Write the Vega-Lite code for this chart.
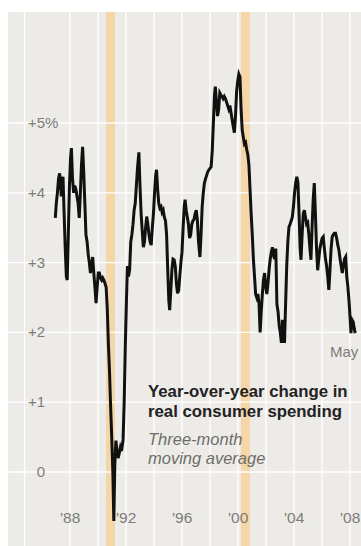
{
  "$schema": "https://vega.github.io/schema/vega-lite/v6.json",
  "width": 353,
  "height": 534,
  "autosize": {"type": "none"},
  "padding": {"left": 8, "top": 12, "right": 0, "bottom": 0},
  "background": "#ffffff",
  "config": {"view": {"fill": "#edebe7", "stroke": null}},
  "datasets": {
    "recessions": [
      {"start": 1990.57, "end": 1991.21},
      {"start": 2000.21, "end": 2000.86}
    ],
    "xgrid": [
      {"year": 1984.75}, {"year": 1988}, {"year": 1990}, {"year": 1992}, {"year": 1994},
      {"year": 1996}, {"year": 1998}, {"year": 2000}, {"year": 2002}, {"year": 2004},
      {"year": 2006}, {"year": 2008}
    ],
    "ygrid": [
      {"v": 0, "label": "0"}, {"v": 1, "label": "+1"}, {"v": 2, "label": "+2"},
      {"v": 3, "label": "+3"}, {"v": 4, "label": "+4"}, {"v": 5, "label": "+5"}
    ],
    "xlabels": [
      {"year": 1988, "label": "’88"}, {"year": 1992, "label": "’92"},
      {"year": 1996, "label": "’96"}, {"year": 2000, "label": "’00"},
      {"year": 2004, "label": "’04"}, {"year": 2008, "label": "’08"}
    ],
    "single": [{}],
    "spending": [
      {"t": 1986.95, "v": 3.64}, {"t": 1987.02, "v": 3.85}, {"t": 1987.10, "v": 4.00},
      {"t": 1987.18, "v": 4.20}, {"t": 1987.26, "v": 4.28}, {"t": 1987.38, "v": 3.95},
      {"t": 1987.50, "v": 4.23}, {"t": 1987.58, "v": 3.70}, {"t": 1987.66, "v": 3.20},
      {"t": 1987.74, "v": 2.80}, {"t": 1987.80, "v": 2.75}, {"t": 1987.88, "v": 3.40},
      {"t": 1987.96, "v": 4.10}, {"t": 1988.04, "v": 4.50}, {"t": 1988.10, "v": 4.64},
      {"t": 1988.18, "v": 4.20}, {"t": 1988.26, "v": 4.00}, {"t": 1988.34, "v": 4.10},
      {"t": 1988.42, "v": 4.05}, {"t": 1988.50, "v": 3.95}, {"t": 1988.58, "v": 3.85},
      {"t": 1988.66, "v": 3.64}, {"t": 1988.74, "v": 4.00}, {"t": 1988.82, "v": 4.40},
      {"t": 1988.90, "v": 4.66}, {"t": 1988.98, "v": 4.30}, {"t": 1989.06, "v": 3.85},
      {"t": 1989.14, "v": 3.40}, {"t": 1989.22, "v": 3.30}, {"t": 1989.30, "v": 3.12},
      {"t": 1989.38, "v": 3.00}, {"t": 1989.46, "v": 2.85}, {"t": 1989.54, "v": 2.95},
      {"t": 1989.62, "v": 3.08}, {"t": 1989.70, "v": 2.85}, {"t": 1989.78, "v": 2.65},
      {"t": 1989.86, "v": 2.42}, {"t": 1989.94, "v": 2.65}, {"t": 1990.02, "v": 2.85},
      {"t": 1990.10, "v": 2.85}, {"t": 1990.18, "v": 2.78}, {"t": 1990.26, "v": 2.75},
      {"t": 1990.34, "v": 2.78}, {"t": 1990.42, "v": 2.75}, {"t": 1990.50, "v": 2.70},
      {"t": 1990.58, "v": 2.65}, {"t": 1990.66, "v": 2.35}, {"t": 1990.74, "v": 1.85},
      {"t": 1990.82, "v": 1.45}, {"t": 1990.90, "v": 0.95}, {"t": 1990.98, "v": 0.50},
      {"t": 1991.06, "v": 0.00}, {"t": 1991.13, "v": -0.70}, {"t": 1991.20, "v": 0.10},
      {"t": 1991.28, "v": 0.45}, {"t": 1991.36, "v": 0.30}, {"t": 1991.44, "v": 0.20},
      {"t": 1991.52, "v": 0.27}, {"t": 1991.60, "v": 0.35}, {"t": 1991.68, "v": 0.30},
      {"t": 1991.79, "v": 0.46}, {"t": 1991.87, "v": 1.00}, {"t": 1991.95, "v": 1.80},
      {"t": 1992.02, "v": 2.37}, {"t": 1992.10, "v": 2.95}, {"t": 1992.18, "v": 2.80},
      {"t": 1992.26, "v": 2.90}, {"t": 1992.34, "v": 3.30}, {"t": 1992.42, "v": 3.40},
      {"t": 1992.50, "v": 3.55}, {"t": 1992.58, "v": 3.75}, {"t": 1992.66, "v": 3.85},
      {"t": 1992.74, "v": 4.10}, {"t": 1992.82, "v": 4.35}, {"t": 1992.92, "v": 4.58},
      {"t": 1993.00, "v": 4.10}, {"t": 1993.08, "v": 3.70}, {"t": 1993.16, "v": 3.45},
      {"t": 1993.24, "v": 3.22}, {"t": 1993.32, "v": 3.30}, {"t": 1993.40, "v": 3.50},
      {"t": 1993.48, "v": 3.66}, {"t": 1993.56, "v": 3.55}, {"t": 1993.64, "v": 3.40},
      {"t": 1993.72, "v": 3.30}, {"t": 1993.80, "v": 3.25}, {"t": 1993.88, "v": 3.50},
      {"t": 1993.96, "v": 3.70}, {"t": 1994.04, "v": 4.00}, {"t": 1994.12, "v": 4.25},
      {"t": 1994.18, "v": 4.33}, {"t": 1994.26, "v": 4.05}, {"t": 1994.34, "v": 3.85},
      {"t": 1994.42, "v": 3.78}, {"t": 1994.50, "v": 3.80}, {"t": 1994.58, "v": 3.72},
      {"t": 1994.66, "v": 3.75}, {"t": 1994.74, "v": 3.65}, {"t": 1994.82, "v": 3.60},
      {"t": 1994.90, "v": 3.40}, {"t": 1994.98, "v": 2.90}, {"t": 1995.06, "v": 2.45},
      {"t": 1995.12, "v": 2.32}, {"t": 1995.20, "v": 2.60}, {"t": 1995.28, "v": 2.90},
      {"t": 1995.36, "v": 3.05}, {"t": 1995.44, "v": 3.04}, {"t": 1995.52, "v": 2.95},
      {"t": 1995.60, "v": 2.70}, {"t": 1995.68, "v": 2.56}, {"t": 1995.76, "v": 2.60},
      {"t": 1995.84, "v": 2.80}, {"t": 1995.92, "v": 3.00}, {"t": 1996.00, "v": 3.15},
      {"t": 1996.08, "v": 3.50}, {"t": 1996.16, "v": 3.80}, {"t": 1996.22, "v": 3.90},
      {"t": 1996.30, "v": 3.75}, {"t": 1996.38, "v": 3.65}, {"t": 1996.46, "v": 3.55},
      {"t": 1996.54, "v": 3.35}, {"t": 1996.62, "v": 3.40}, {"t": 1996.70, "v": 3.55},
      {"t": 1996.78, "v": 3.60}, {"t": 1996.86, "v": 3.62}, {"t": 1996.94, "v": 3.70},
      {"t": 1997.02, "v": 3.75}, {"t": 1997.10, "v": 3.60}, {"t": 1997.18, "v": 3.30},
      {"t": 1997.28, "v": 3.08}, {"t": 1997.36, "v": 3.40}, {"t": 1997.44, "v": 3.80},
      {"t": 1997.52, "v": 4.00}, {"t": 1997.60, "v": 4.14}, {"t": 1997.68, "v": 4.20},
      {"t": 1997.76, "v": 4.25}, {"t": 1997.84, "v": 4.30}, {"t": 1997.92, "v": 4.33},
      {"t": 1998.00, "v": 4.35}, {"t": 1998.08, "v": 4.37}, {"t": 1998.16, "v": 4.60},
      {"t": 1998.24, "v": 5.00}, {"t": 1998.32, "v": 5.40}, {"t": 1998.38, "v": 5.52},
      {"t": 1998.46, "v": 5.30}, {"t": 1998.54, "v": 5.10}, {"t": 1998.62, "v": 5.20},
      {"t": 1998.70, "v": 5.43}, {"t": 1998.78, "v": 5.40}, {"t": 1998.86, "v": 5.38},
      {"t": 1998.94, "v": 5.35}, {"t": 1999.02, "v": 5.38}, {"t": 1999.10, "v": 5.35},
      {"t": 1999.18, "v": 5.30}, {"t": 1999.26, "v": 5.25}, {"t": 1999.34, "v": 5.20},
      {"t": 1999.42, "v": 5.25}, {"t": 1999.50, "v": 5.15}, {"t": 1999.58, "v": 5.05},
      {"t": 1999.66, "v": 4.95}, {"t": 1999.74, "v": 4.86}, {"t": 1999.82, "v": 5.10},
      {"t": 1999.90, "v": 5.45}, {"t": 1999.98, "v": 5.60}, {"t": 2000.06, "v": 5.70},
      {"t": 2000.14, "v": 5.66}, {"t": 2000.22, "v": 5.20}, {"t": 2000.30, "v": 4.90},
      {"t": 2000.38, "v": 4.80}, {"t": 2000.46, "v": 4.70}, {"t": 2000.54, "v": 4.72},
      {"t": 2000.62, "v": 4.62}, {"t": 2000.70, "v": 4.55}, {"t": 2000.78, "v": 4.40},
      {"t": 2000.86, "v": 4.05}, {"t": 2000.94, "v": 3.70}, {"t": 2001.02, "v": 3.40},
      {"t": 2001.10, "v": 3.05}, {"t": 2001.18, "v": 2.80}, {"t": 2001.26, "v": 2.55},
      {"t": 2001.34, "v": 2.50}, {"t": 2001.42, "v": 2.55}, {"t": 2001.50, "v": 2.42},
      {"t": 2001.58, "v": 2.00}, {"t": 2001.66, "v": 2.30}, {"t": 2001.74, "v": 2.55},
      {"t": 2001.82, "v": 2.75}, {"t": 2001.90, "v": 2.85}, {"t": 2001.98, "v": 2.65},
      {"t": 2002.06, "v": 2.55}, {"t": 2002.14, "v": 2.70}, {"t": 2002.22, "v": 2.90},
      {"t": 2002.30, "v": 3.05}, {"t": 2002.38, "v": 3.15}, {"t": 2002.46, "v": 3.22},
      {"t": 2002.54, "v": 3.10}, {"t": 2002.62, "v": 3.05}, {"t": 2002.70, "v": 3.20},
      {"t": 2002.78, "v": 2.40}, {"t": 2002.86, "v": 2.30}, {"t": 2002.94, "v": 2.10},
      {"t": 2003.02, "v": 2.00}, {"t": 2003.10, "v": 1.85}, {"t": 2003.18, "v": 2.18},
      {"t": 2003.26, "v": 2.00}, {"t": 2003.32, "v": 1.85}, {"t": 2003.40, "v": 2.40},
      {"t": 2003.48, "v": 2.95}, {"t": 2003.56, "v": 3.30}, {"t": 2003.64, "v": 3.51},
      {"t": 2003.72, "v": 3.55}, {"t": 2003.80, "v": 3.60}, {"t": 2003.88, "v": 3.65},
      {"t": 2003.96, "v": 3.80}, {"t": 2004.04, "v": 4.00}, {"t": 2004.12, "v": 4.14},
      {"t": 2004.20, "v": 4.23}, {"t": 2004.28, "v": 4.15}, {"t": 2004.36, "v": 3.70},
      {"t": 2004.44, "v": 3.20}, {"t": 2004.50, "v": 3.04}, {"t": 2004.58, "v": 3.40},
      {"t": 2004.66, "v": 3.70}, {"t": 2004.74, "v": 3.75}, {"t": 2004.82, "v": 3.65},
      {"t": 2004.90, "v": 3.55}, {"t": 2004.98, "v": 3.57}, {"t": 2005.06, "v": 3.40},
      {"t": 2005.14, "v": 3.20}, {"t": 2005.21, "v": 3.04}, {"t": 2005.29, "v": 3.50},
      {"t": 2005.37, "v": 3.90}, {"t": 2005.45, "v": 4.14}, {"t": 2005.53, "v": 3.70},
      {"t": 2005.61, "v": 3.20}, {"t": 2005.69, "v": 2.89}, {"t": 2005.77, "v": 3.05},
      {"t": 2005.85, "v": 3.20}, {"t": 2005.93, "v": 3.28}, {"t": 2006.01, "v": 3.35},
      {"t": 2006.09, "v": 3.37}, {"t": 2006.17, "v": 3.20}, {"t": 2006.25, "v": 3.05},
      {"t": 2006.33, "v": 2.95}, {"t": 2006.41, "v": 2.80}, {"t": 2006.49, "v": 2.61},
      {"t": 2006.57, "v": 2.90}, {"t": 2006.65, "v": 3.20}, {"t": 2006.73, "v": 3.37},
      {"t": 2006.81, "v": 3.40}, {"t": 2006.89, "v": 3.42}, {"t": 2006.97, "v": 3.42},
      {"t": 2007.05, "v": 3.35}, {"t": 2007.13, "v": 3.25}, {"t": 2007.21, "v": 3.18},
      {"t": 2007.29, "v": 3.05}, {"t": 2007.37, "v": 2.95}, {"t": 2007.45, "v": 2.85},
      {"t": 2007.53, "v": 2.95}, {"t": 2007.61, "v": 3.05}, {"t": 2007.69, "v": 3.08},
      {"t": 2007.77, "v": 2.80}, {"t": 2007.85, "v": 2.65}, {"t": 2007.93, "v": 2.45},
      {"t": 2008.01, "v": 2.20}, {"t": 2008.07, "v": 1.99}, {"t": 2008.15, "v": 2.18},
      {"t": 2008.23, "v": 2.15}, {"t": 2008.31, "v": 2.05}, {"t": 2008.37, "v": 1.99}
    ]
  },
  "encoding": {
    "x": {"type": "quantitative", "scale": {"domain": [1983.571, 2008.786], "nice": false, "zero": false}, "axis": null},
    "y": {"type": "quantitative", "scale": {"domain": [-1.06, 6.59], "nice": false, "zero": false}, "axis": null}
  },
  "layer": [
    {
      "data": {"name": "recessions"},
      "mark": {"type": "rect", "color": "#f5d6a8"},
      "encoding": {
        "x": {"field": "start", "type": "quantitative"},
        "x2": {"field": "end"}
      }
    },
    {
      "data": {"name": "xgrid"},
      "mark": {"type": "rule", "color": "#ffffff", "strokeWidth": 1.3},
      "encoding": {"x": {"field": "year", "type": "quantitative"}}
    },
    {
      "data": {"name": "ygrid"},
      "mark": {"type": "rule", "color": "#ffffff", "strokeWidth": 1.3},
      "encoding": {"y": {"field": "v", "type": "quantitative"}}
    },
    {
      "data": {"name": "spending"},
      "mark": {"type": "line", "color": "#111111", "strokeWidth": 3, "strokeJoin": "miter"},
      "encoding": {
        "x": {"field": "t", "type": "quantitative"},
        "y": {"field": "v", "type": "quantitative"}
      }
    },
    {
      "data": {"name": "ygrid"},
      "mark": {"type": "text", "align": "right", "baseline": "middle", "font": "Liberation Sans", "fontSize": 15, "color": "#7d7b78"},
      "encoding": {
        "x": {"datum": 1986.214, "type": "quantitative"},
        "y": {"field": "v", "type": "quantitative"},
        "text": {"field": "label"}
      }
    },
    {
      "data": {"name": "single"},
      "mark": {"type": "text", "text": "%", "align": "left", "baseline": "middle", "font": "Liberation Sans", "fontSize": 15, "color": "#7d7b78"},
      "encoding": {
        "x": {"datum": 1986.214, "type": "quantitative"},
        "y": {"datum": 5, "type": "quantitative"}
      }
    },
    {
      "data": {"name": "xlabels"},
      "mark": {"type": "text", "align": "center", "baseline": "middle", "font": "Liberation Sans", "fontSize": 15.5, "color": "#7d7b78"},
      "encoding": {
        "x": {"field": "year", "type": "quantitative"},
        "y": {"datum": -0.66, "type": "quantitative"},
        "text": {"field": "label"}
      }
    },
    {
      "data": {"name": "single"},
      "mark": {"type": "text", "text": "May", "align": "left", "baseline": "alphabetic", "font": "Liberation Sans", "fontSize": 15, "color": "#7d7b78"},
      "encoding": {
        "x": {"datum": 2006.571, "type": "quantitative"},
        "y": {"datum": 1.648, "type": "quantitative"}
      }
    },
    {
      "data": {"name": "single"},
      "mark": {"type": "text", "text": ["Year-over-year change in", "real consumer spending"], "align": "left", "baseline": "alphabetic", "lineHeight": 20, "font": "Liberation Sans", "fontWeight": "bold", "fontSize": 16.8, "color": "#222222"},
      "encoding": {
        "x": {"datum": 1993.571, "type": "quantitative"},
        "y": {"datum": 1.075, "type": "quantitative"}
      }
    },
    {
      "data": {"name": "single"},
      "mark": {"type": "text", "text": ["Three-month", "moving average"], "align": "left", "baseline": "alphabetic", "lineHeight": 19, "font": "Liberation Sans", "fontStyle": "italic", "fontSize": 16.5, "color": "#6e6c69"},
      "encoding": {
        "x": {"datum": 1993.571, "type": "quantitative"},
        "y": {"datum": 0.387, "type": "quantitative"}
      }
    }
  ]
}
